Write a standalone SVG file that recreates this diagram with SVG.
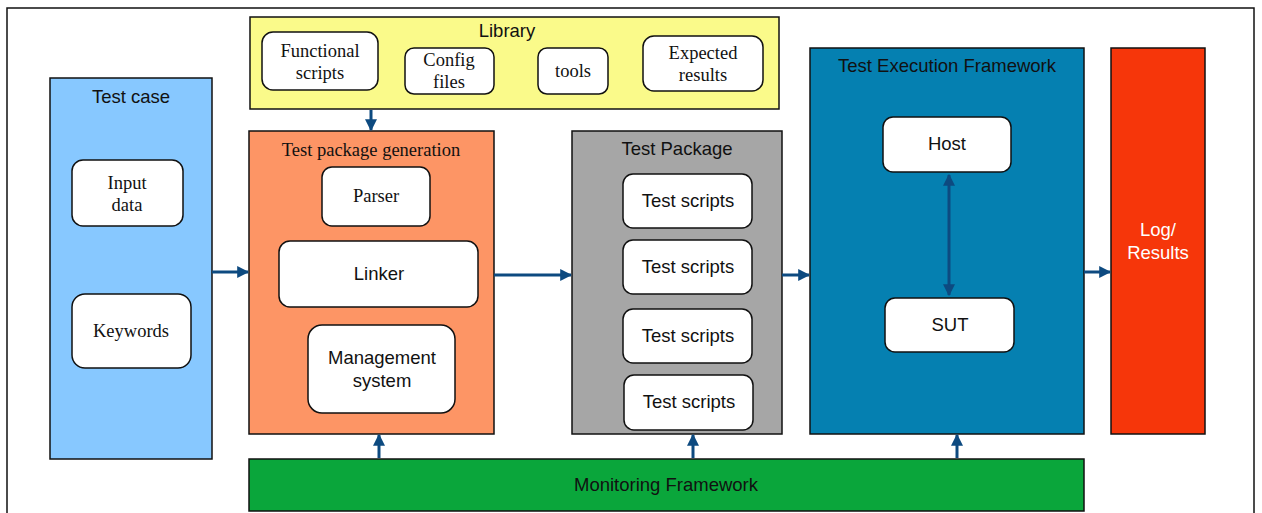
<svg xmlns="http://www.w3.org/2000/svg" width="1262" height="513" viewBox="0 0 1262 513">
<style>
.c{stroke:#111;stroke-width:1.5}
.b{fill:#fff;stroke:#111;stroke-width:1.5}
.s{font-family:"Liberation Sans",Arial,sans-serif;font-size:18.5px;fill:#111;text-anchor:middle}
.r{font-family:"Liberation Serif","Times New Roman",serif;font-size:18.5px;fill:#111;text-anchor:middle}
.a{stroke:#0D4A80;stroke-width:3;fill:none;marker-end:url(#ah)}
</style>
<defs>
<marker id="ah" viewBox="0 0 10 10" refX="9" refY="5" markerWidth="4" markerHeight="4" orient="auto-start-reverse" markerUnits="strokeWidth">
<path d="M0,0 L10,5 L0,10 z" fill="#0D4A80"/>
</marker>
</defs>
<rect x="7" y="8" width="1247" height="520" fill="#fff" stroke="#111" stroke-width="1.5"/>
<g id="test-case">
<rect class="c" x="50" y="78" width="162" height="381" fill="#87C8FF"/>
<text class="s" x="131" y="103">Test case</text>
</g>
<g id="input-data">
<rect class="b" x="72" y="160" width="111" height="66" rx="11"/>
<text class="r" x="127" y="189">Input</text>
<text class="r" x="127" y="211">data</text>
</g>
<g id="keywords">
<rect class="b" x="72" y="294" width="119" height="74" rx="13"/>
<text class="r" x="131" y="337">Keywords</text>
</g>
<g id="library">
<rect class="c" x="250" y="17" width="529" height="92" fill="#FAFA8A"/>
<text class="s" x="507" y="37">Library</text>
</g>
<g id="functional-scripts">
<rect class="b" x="262" y="32" width="116" height="58" rx="11"/>
<text class="r" x="320" y="57">Functional</text>
<text class="r" x="320" y="79">scripts</text>
</g>
<g id="config-files">
<rect class="b" x="405" y="48" width="89" height="46" rx="9"/>
<text class="r" x="449" y="66">Config</text>
<text class="r" x="449" y="88">files</text>
</g>
<g id="tools">
<rect class="b" x="538" y="48" width="70" height="46" rx="9"/>
<text class="r" x="573" y="77">tools</text>
</g>
<g id="expected-results">
<rect class="b" x="643" y="36" width="120" height="55" rx="11"/>
<text class="r" x="703" y="59">Expected</text>
<text class="r" x="703" y="81">results</text>
</g>
<g id="test-package-generation">
<rect class="c" x="249" y="131" width="245" height="303" fill="#FD9565"/>
<text class="r" x="371" y="156">Test package generation</text>
</g>
<g id="parser">
<rect class="b" x="322" y="167" width="108" height="59" rx="10"/>
<text class="r" x="376" y="202">Parser</text>
</g>
<g id="linker">
<rect class="b" x="279" y="241" width="199" height="66" rx="11"/>
<text class="s" x="379" y="280">Linker</text>
</g>
<g id="management-system">
<rect class="b" x="308" y="325" width="147" height="88" rx="14"/>
<text class="s" x="382" y="364">Management</text>
<text class="s" x="382" y="387">system</text>
</g>
<g id="test-package">
<rect class="c" x="572" y="131" width="210" height="303" fill="#A6A6A6"/>
<text class="s" x="677" y="155">Test Package</text>
</g>
<g id="test-scripts-1">
<rect class="b" x="623" y="174" width="129" height="54" rx="10"/>
<text class="s" x="688" y="207">Test scripts</text>
</g>
<g id="test-scripts-2">
<rect class="b" x="623" y="240" width="129" height="54" rx="10"/>
<text class="s" x="688" y="273">Test scripts</text>
</g>
<g id="test-scripts-3">
<rect class="b" x="623" y="309" width="129" height="54" rx="10"/>
<text class="s" x="688" y="342">Test scripts</text>
</g>
<g id="test-scripts-4">
<rect class="b" x="624" y="375" width="129" height="55" rx="10"/>
<text class="s" x="689" y="408">Test scripts</text>
</g>
<g id="test-execution-framework">
<rect class="c" x="810" y="48" width="274" height="386" fill="#0580B1"/>
<text class="s" x="947" y="72">Test Execution Framework</text>
</g>
<g id="host">
<rect class="b" x="883" y="117" width="128" height="55" rx="10"/>
<text class="s" x="947" y="150">Host</text>
</g>
<g id="sut">
<rect class="b" x="885" y="298" width="129" height="54" rx="10"/>
<text class="s" x="950" y="331">SUT</text>
</g>
<g id="log-results">
<rect class="c" x="1111" y="48" width="94" height="386" fill="#F6360A"/>
<text class="s" x="1158" y="236" style="fill:#fff">Log/</text>
<text class="s" x="1158" y="259" style="fill:#fff">Results</text>
</g>
<g id="monitoring-framework">
<rect class="c" x="249" y="459" width="835" height="52" fill="#0AA63B"/>
<text class="s" x="666" y="491">Monitoring Framework</text>
</g>
<g id="connectors">
<line class="a" x1="371" y1="110" x2="371" y2="130"/>
<line class="a" x1="212" y1="272" x2="248" y2="272"/>
<line class="a" x1="494" y1="275" x2="571" y2="275"/>
<line class="a" x1="782" y1="275" x2="809" y2="275"/>
<line class="a" x1="1084" y1="272" x2="1110" y2="272"/>
<line class="a" x1="949" y1="175" x2="949" y2="295" style="marker-start:url(#ah)"/>
<line class="a" x1="379" y1="458" x2="379" y2="435"/>
<line class="a" x1="693" y1="458" x2="693" y2="435"/>
<line class="a" x1="957" y1="458" x2="957" y2="435"/>
</g>
</svg>
